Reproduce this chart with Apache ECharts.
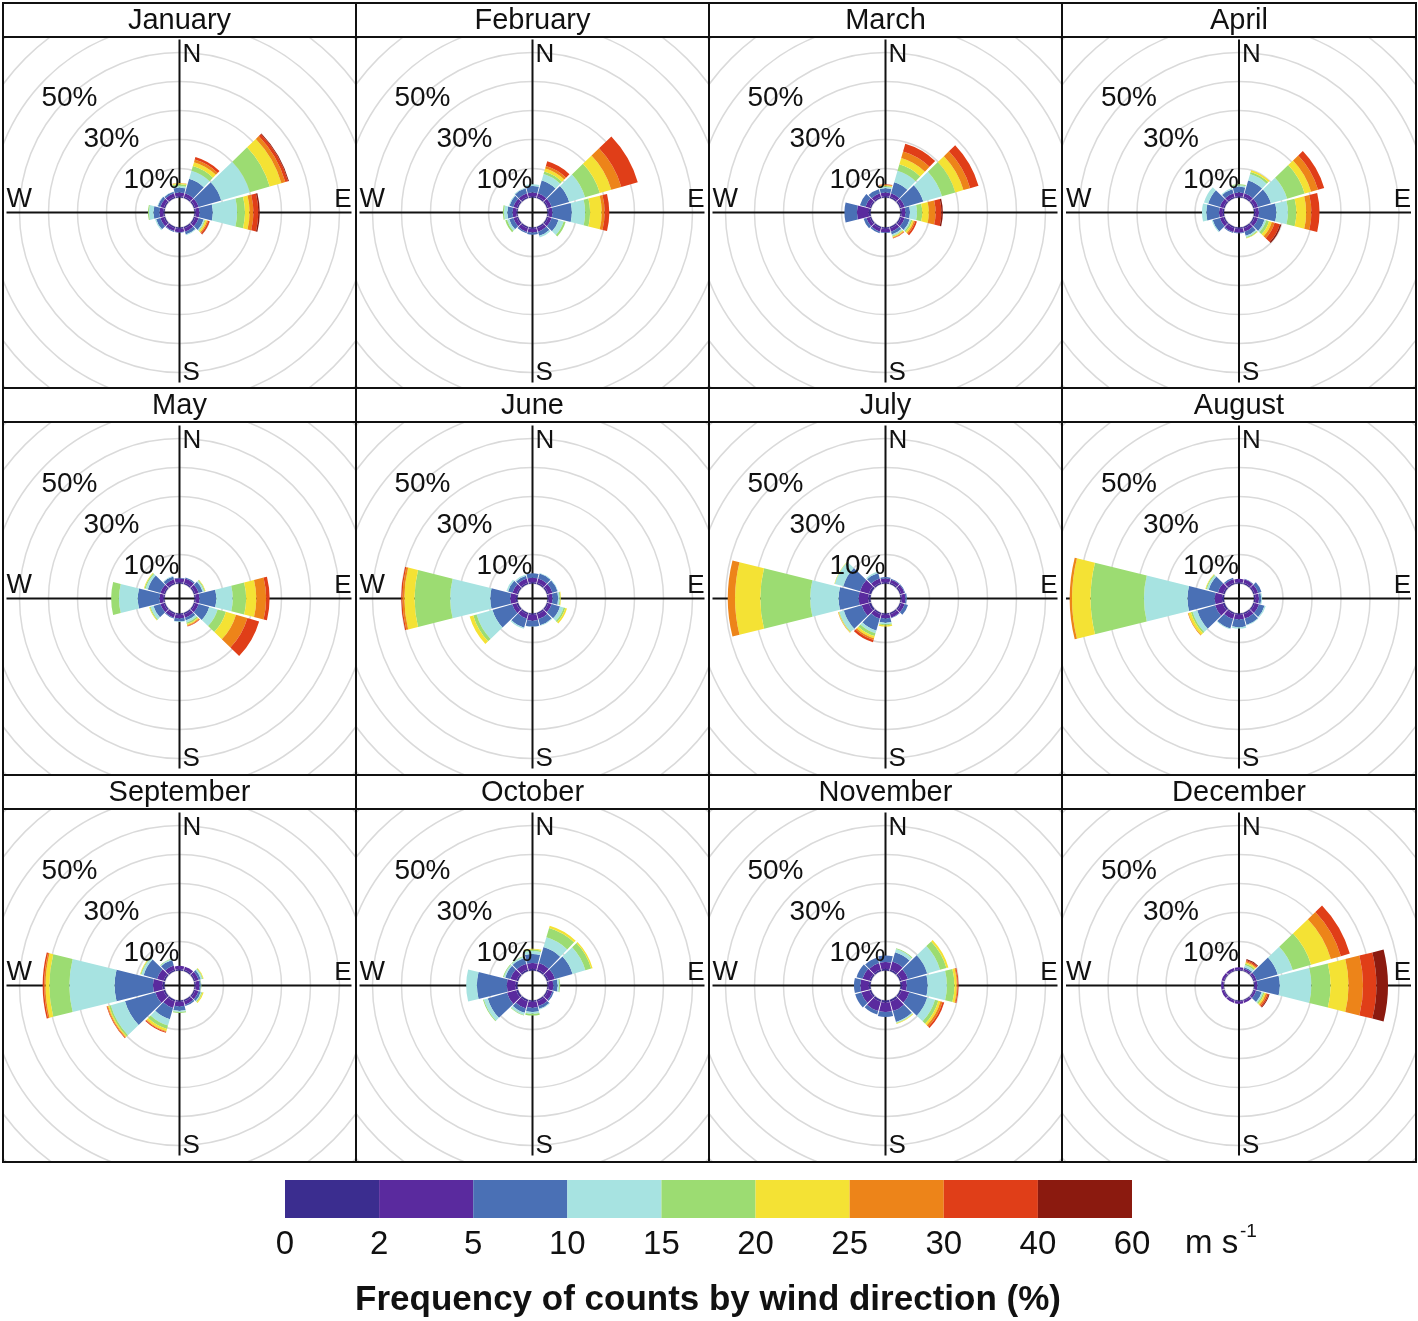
<!DOCTYPE html>
<html>
<head>
<meta charset="utf-8">
<script src="https://cdn.jsdelivr.net/npm/echarts@6.0.0/dist/echarts.min.js"></script>
<style>
html,body{margin:0;padding:0;background:#fff;}
#wrap{position:relative;width:1418px;height:1321px;background:#fff;}
#bg{position:absolute;left:0;top:0;width:1418px;height:1321px;}
.panel{position:absolute;}
</style>
</head>
<body>
<div id="wrap"><div id="bg"></div></div>
<script>
// ---------------- data ----------------
const monthNames = ['January','February','March','April','May','June','July','August','September','October','November','December'];
const directions = ['0','30','60','90','120','150','180','210','240','270','300','330'];
const speedBins = ['0-2','2-5','5-10','10-15','15-20','20-25','25-30','30-40','40-60'];
const tickLabels = ['0','2','5','10','15','20','25','30','40','60'];
const binColors = ['#3B2D8F','#5A2A9E','#4A70B5','#A7E3E1','#9CDC72','#F4E234','#ED8419','#E03E18','#8B1A0F'];
const ringLabels = ['10%','30%','50%'];
const unitText = 'm s';
const unitSup = '-1';
const axisTitle = 'Frequency of counts by wind direction (%)';

// each row = direction (0,30,...,330 deg); each column = frequency (%) of a speed bin
const January = [
  [0.5,1.2,1.7,0.6,0.6,0.3,0.1,0,0],
  [0.5,1.2,5.2,2.9,1.7,1.4,0.9,0.9,0],
  [0.5,1.2,8.1,10.3,7.1,4.2,1.4,1.0,0.3],
  [0.5,1.2,4.6,8.4,2.7,1.6,1.3,1.7,0.5],
  [0.5,1.2,1.8,0.4,0.3,0.5,0.4,0.5,0.1],
  [0.5,1.2,1.0,0.3,0,0,0,0,0],
  [0.5,1.1,0.2,0,0,0,0,0,0],
  [0.5,1.0,0.3,0,0,0,0,0,0],
  [0.5,1.2,1.5,0.4,0,0,0,0,0],
  [0.5,1.2,2.1,1.6,0.3,0,0,0,0],
  [0.5,1.2,0.9,0.2,0,0,0,0,0],
  [0.5,1.2,0.6,0.1,0,0,0,0,0]
];
const February = [
  [0.5,1.2,2.3,0.6,0,0,0,0,0],
  [0.5,1.2,4.6,2.3,0.9,1.1,0.9,1.7,0],
  [0.5,1.2,6.3,5.7,5.3,4.1,3.6,5.9,0],
  [0.5,1.2,6.7,4.6,1.7,4.0,1.0,1.6,0],
  [0.5,1.2,2.5,1.8,0.7,0,0,0,0],
  [0.5,1.2,1.5,0.6,0,0,0,0,0],
  [0.5,1.2,0.8,0,0,0,0,0,0],
  [0.5,1.3,0.5,0,0,0,0,0,0],
  [0.5,1.2,1.5,0.8,0.6,0,0,0,0],
  [0.5,1.2,1.8,1.2,0.4,0,0,0,0],
  [0.5,1.2,1.4,0.3,0,0,0,0,0],
  [0.5,1.2,1.8,0.3,0,0,0,0,0]
];
const March = [
  [0.5,1.2,1.5,0.5,0.3,0.2,0.2,0.2,0],
  [0.5,1.2,4.0,4.1,2.3,2.3,2.3,2.8,0],
  [0.5,1.2,6.7,6.7,4.8,2.9,2.4,3.0,0],
  [0.5,1.2,1.6,2.4,1.8,2.3,2.3,2.0,0.5],
  [0.5,1.2,1.8,0.5,0.5,0.5,0.5,0.6,0],
  [0.5,1.2,1.0,0.5,0.3,0.3,0.2,0.2,0],
  [0.5,1.2,0.2,0,0,0,0,0,0],
  [0.5,1.2,0.6,0,0,0,0,0,0],
  [0.5,1.2,1.0,0,0,0,0,0,0],
  [0.6,4.1,4.3,0,0,0,0,0,0],
  [0.5,1.5,2.0,0,0,0,0,0,0],
  [0.5,1.2,1.5,0,0,0,0,0,0]
];
const April = [
  [0.5,1.2,2.0,0.5,0.4,0,0,0,0],
  [0.5,1.2,4.6,2.3,0.8,0.6,0,0,0],
  [0.5,1.2,4.6,5.8,6.3,2.3,2.5,2.2,0],
  [0.5,1.2,6.0,4.0,2.9,3.4,1.8,2.8,0],
  [0.5,1.2,2.3,0.6,1.0,1.0,1.0,1.9,0.5],
  [0.5,1.2,1.5,0.5,0.3,0.2,0,0,0],
  [0.5,1.3,0.2,0,0,0,0,0,0],
  [0.5,1.4,0.3,0,0,0,0,0,0],
  [0.5,1.2,2.6,0.3,0,0,0,0,0],
  [0.5,1.2,4.4,1.5,0,0,0,0,0],
  [0.5,1.2,4.2,1.5,0,0,0,0,0],
  [0.5,1.2,1.5,0.4,0,0,0,0,0]
];
const May = [
  [0.5,1.3,0.2,0,0,0,0,0,0],
  [0.5,1.5,0.4,0,0,0,0,0,0],
  [0.5,1.2,1.5,0.5,0.3,0.2,0,0,0],
  [0.5,1.2,5.8,5.7,4.6,3.5,3.4,1.2,0],
  [0.5,1.2,3.8,3.0,3.0,3.6,4.1,4.2,0],
  [0.5,1.2,1.0,0.8,0.5,0.4,0.3,0.2,0],
  [0.5,1.2,1.0,0.2,0,0,0,0,0],
  [0.5,1.2,0.3,0,0,0,0,0,0],
  [0.5,1.2,2.5,1.0,0.3,0.2,0,0,0],
  [0.5,1.2,7.5,6.5,2.7,0,0,0,0],
  [0.5,1.2,4.5,0.8,0.4,0.2,0,0,0],
  [0.5,1.2,1.0,0.3,0,0,0,0,0]
];
const June = [
  [0.5,1.5,1.5,0,0,0,0,0,0],
  [0.5,1.5,1.8,0.2,0,0,0,0,0],
  [0.5,1.5,1.8,0.2,0,0,0,0,0],
  [0.5,1.2,2.0,0.5,0.3,0.2,0,0,0],
  [0.5,1.2,3.0,1.3,0.6,0.6,0,0,0],
  [0.5,1.7,2.2,0.2,0,0,0,0,0],
  [0.5,2.0,2.0,0.1,0,0,0,0,0],
  [0.5,1.5,3.3,0.4,0,0,0,0,0],
  [0.6,1.5,7.1,5.7,1.2,1.3,0,0,0],
  [0.6,1.9,6.9,13.8,12.3,3.5,0.7,0.4,0],
  [0.5,1.5,1.6,0.6,0,0,0,0,0],
  [0.5,1.5,1.0,0.4,0,0,0,0,0]
];
const July = [
  [0.5,1.2,0.5,0,0,0,0,0,0],
  [0.5,1.1,0.3,0,0,0,0,0,0],
  [0.5,1.1,0.3,0,0,0,0,0,0],
  [0.5,1.2,0.5,0,0,0,0,0,0],
  [0.5,1.2,1.2,0,0,0,0,0,0],
  [0.5,1.2,0.2,0,0,0,0,0,0],
  [0.5,1.2,1.5,0.5,0.4,0.4,0,0,0],
  [0.5,1.5,4.3,1.0,1.0,0.8,0.6,0.8,0],
  [0.8,2.6,6.4,1.6,0.2,0.2,0.1,0,0],
  [0.8,3.3,6.9,9.8,17.2,8.7,2.5,0,0],
  [0.8,3.2,6.0,3.0,0.1,0.1,0,0,0],
  [0.5,1.5,2.0,0.5,0,0,0,0,0]
];
const August = [
  [0.5,1.1,0,0,0,0,0,0,0],
  [0.5,1.2,0.2,0,0,0,0,0,0],
  [0.5,1.2,1.2,0,0,0,0,0,0],
  [0.5,1.2,0.8,0.3,0,0,0,0,0],
  [0.5,1.5,2.0,0.4,0,0,0,0,0],
  [0.5,1.5,2.3,0.2,0,0,0,0,0],
  [0.5,1.5,2.7,0.5,0,0,0,0,0],
  [0.5,1.7,3.4,0.3,0,0,0,0,0],
  [0.7,2.7,6.4,1.7,0.6,0.9,0.2,0,0],
  [0.7,2.5,9.4,15.0,18.4,6.4,0.8,0,0],
  [0.6,1.8,3.3,0.7,0.3,0.2,0,0,0],
  [0.5,1.3,0.5,0,0,0,0,0,0]
];
const September = [
  [0.5,1.1,0,0,0,0,0,0,0],
  [0.5,1.1,0,0,0,0,0,0,0],
  [0.5,1.2,0.8,0.5,0.3,0.2,0,0,0],
  [0.5,1.2,0.5,0.1,0.1,0,0,0,0],
  [0.5,1.2,0.8,0.3,0.3,0.4,0,0,0],
  [0.5,1.2,0.5,0,0,0,0,0,0],
  [0.5,1.5,1.5,0.5,0.3,0,0,0,0],
  [0.6,2.3,4.0,2.3,1.2,0.8,0.3,0.3,0],
  [0.6,2.9,10.9,5.1,0.6,0.4,0.3,0.2,0],
  [0.7,3.3,13.2,15.6,6.9,1.3,0.5,0.5,0],
  [0.6,2.3,4.8,0.8,0.3,0.2,0,0,0],
  [0.5,1.5,2.0,0.3,0.2,0,0,0,0]
];
const October = [
  [0.6,2.0,3.1,1.0,0.5,0.3,0,0,0],
  [0.6,2.3,5.7,3.5,3.4,0.8,0,0,0],
  [0.6,2.3,6.3,4.6,2.1,0.5,0,0,0],
  [0.5,1.5,1.5,0.6,0.3,0,0,0,0],
  [0.5,1.5,0.5,0,0,0,0,0,0],
  [0.5,1.7,1.0,0.3,0,0,0,0,0],
  [0.5,2.0,1.5,0.6,0.6,0,0,0,0],
  [0.6,2.5,1.5,0.8,0.2,0,0,0,0],
  [0.7,3.3,6.9,1.4,0.3,0,0,0,0],
  [0.7,3.0,10.3,3.7,0,0,0,0,0],
  [0.6,2.2,1.8,0.5,0.3,0,0,0,0],
  [0.6,2.0,2.1,0.5,0.2,0,0,0,0]
];
const November = [
  [0.6,2.3,2.3,0,0,0,0,0,0],
  [0.6,2.8,3.4,1.1,0.3,0,0,0,0],
  [0.6,2.3,6.9,4.6,2.3,0.7,0,0,0],
  [0.6,1.6,7.2,6.6,2.6,0.8,0.3,0.3,0],
  [0.6,2.8,6.4,2.8,1.2,0.8,0.7,0.6,0],
  [0.7,3.3,3.9,0.3,0.2,0.2,0,0,0],
  [0.7,3.3,1.7,0,0,0,0,0,0],
  [0.7,3.3,1.2,0,0,0,0,0,0],
  [0.6,2.9,2.2,0,0,0,0,0,0],
  [0.6,2.9,2.2,0,0,0,0,0,0],
  [0.6,2.5,2.1,0,0,0,0,0,0],
  [0.6,2.3,2.0,0,0,0,0,0,0]
];
const December = [
  [0.3,0.8,0,0,0,0,0,0,0],
  [0.3,0.6,0.5,0.8,0.5,0.5,0.4,0.4,0.3],
  [0.4,0.8,7.5,5.4,6.6,7.1,3.6,3.2,0],
  [0.4,0.8,7.7,10.9,6.6,6.2,5.0,4.6,4.0],
  [0.3,0.7,2.0,0.5,0.5,0.5,0.5,0.5,0.3],
  [0.3,0.8,0,0,0,0,0,0,0],
  [0.3,0.8,0,0,0,0,0,0,0],
  [0.3,0.8,0,0,0,0,0,0,0],
  [0.3,0.8,0,0,0,0,0,0,0],
  [0.3,0.7,0.1,0,0,0,0,0,0],
  [0.3,0.8,0,0,0,0,0,0,0],
  [0.3,0.8,0,0,0,0,0,0,0]
];
const monthData = [January,February,March,April,May,June,July,August,September,October,November,December];

// ---------------- layout ----------------
const FONT = "'Liberation Sans', Arial, Helvetica, sans-serif";
const colX = [3,356,709,1062,1416];
const rowTop = [3,388,775];
const rowBot = [388,775,1162];
const STRIP = 34;
const R0 = 15;          // hole radius (px)
const PX_PER_PCT = 2.9; // px per 1 %
const RMAX = 90;

function txt(text, x, y, size, align, valign, weight, z) {
  return {
    type: 'text', z: (z === undefined ? 100 : z),
    style: {
      text: text, x: x, y: y,
      fill: '#111',
      fontSize: size, fontFamily: FONT, fontWeight: weight || 'normal',
      align: align, verticalAlign: valign,
      textAlign: align, textVerticalAlign: valign
    }
  };
}
function ln(x1, y1, x2, y2, w, z) {
  return { type: 'line', z: (z === undefined ? 50 : z), shape: {x1, y1, x2, y2}, style: {stroke: '#111', lineWidth: w || 2} };
}

// ---------------- background: frames, titles, colour bar ----------------
const bg = echarts.init(document.getElementById('bg'));
const bgGraphics = [];
bgGraphics.push({type:'rect', z:50, shape:{x:colX[0], y:rowTop[0], width:colX[4]-colX[0], height:rowBot[2]-rowTop[0]},
  style:{fill:'none', stroke:'#111', lineWidth:2}});
for (let c = 1; c < 4; c++) bgGraphics.push(ln(colX[c], rowTop[0], colX[c], rowBot[2]));
for (let r = 0; r < 3; r++) {
  if (r > 0) bgGraphics.push(ln(colX[0], rowTop[r], colX[4], rowTop[r]));
  bgGraphics.push(ln(colX[0], rowTop[r] + STRIP, colX[4], rowTop[r] + STRIP));
}
monthNames.forEach((m, i) => {
  const r = Math.floor(i / 4), c = i % 4;
  bgGraphics.push(txt(m, (colX[c] + colX[c+1]) / 2, rowTop[r] + STRIP / 2 + 1, 29, 'center', 'middle'));
});
bgGraphics.push(txt(unitText, 1185, 1244, 33, 'left', 'middle'));
bgGraphics.push(txt(unitSup, 1240, 1232, 19, 'left', 'middle'));
bgGraphics.push(txt(axisTitle, 708, 1300, 35, 'center', 'middle', 'bold'));

bg.setOption({
  animation: false,
  grid: {left: 285, top: 1180, width: 847, height: 38},
  xAxis: {
    type: 'value', min: 0, max: speedBins.length, interval: 1,
    axisLine: {show: false}, axisTick: {show: false}, splitLine: {show: false},
    axisLabel: {show: true, margin: 10, color: '#111', fontSize: 33, fontFamily: FONT,
      formatter: v => tickLabels[Math.round(v)]}
  },
  yAxis: {type: 'value', min: 0, max: 1, show: false},
  series: [{
    type: 'custom', silent: true,
    data: speedBins.map((b, i) => [i, i + 1]),
    renderItem: function (params, api) {
      const p0 = api.coord([api.value(0), 0]);
      const p1 = api.coord([api.value(1), 1]);
      return {type: 'rect', shape: {x: p0[0], y: p1[1], width: p1[0] - p0[0], height: p0[1] - p1[1]},
        style: {fill: binColors[params.dataIndex]}};
    }
  }],
  graphic: bgGraphics
});

// ---------------- panels ----------------
const wrap = document.getElementById('wrap');
monthData.forEach((data, i) => {
  const r = Math.floor(i / 4), c = i % 4;
  const left = colX[c] + 1, top = rowTop[r] + STRIP + 1;
  const w = colX[c+1] - colX[c] - 2, h = rowBot[r] - top - 1;
  const div = document.createElement('div');
  div.className = 'panel';
  div.style.left = left + 'px'; div.style.top = top + 'px';
  div.style.width = w + 'px'; div.style.height = h + 'px';
  wrap.appendChild(div);
  const cx = w / 2, cy = h / 2;
  // west label is hidden when the westerly bar runs into it (as in the original)
  const westTotal = data[9].reduce((a, b) => a + b, 0);
  const westRadius = R0 + PX_PER_PCT * westTotal;
  const g = [
    ln(cx, cy - 173, cx, cy + 170, 2, 1),
    ln(cx - 173, cy, cx + 172, cy, 2, 1),
    txt('N', cx + 3, cy - 158, 26, 'left', 'middle', 'normal', 1),
    txt('S', cx + 3, cy + 160, 26, 'left', 'middle', 'normal', 1),
    txt('E', cx + 172, cy - 13, 26, 'right', 'middle', 'normal', 1),
    txt(ringLabels[0], cx - 28, cy - 32, 28, 'center', 'middle'),
    txt(ringLabels[1], cx - 68, cy - 73, 28, 'center', 'middle'),
    txt(ringLabels[2], cx - 110, cy - 114, 28, 'center', 'middle')
  ];
  if (westRadius < 146) g.push(txt('W', cx - 173, cy - 13, 27, 'left', 'middle', 'normal', 1));
  const chart = echarts.init(div);
  chart.setOption({
    animation: false,
    polar: {center: ['50%', '50%'], radius: [R0, R0 + PX_PER_PCT * RMAX]},
    angleAxis: {
      type: 'category', data: directions, startAngle: 105, clockwise: true, boundaryGap: true,
      axisLine: {show: false}, axisTick: {show: false}, axisLabel: {show: false},
      splitLine: {show: false}, splitArea: {show: false}
    },
    radiusAxis: {
      type: 'value', min: 0, max: RMAX, interval: 10,
      axisLine: {show: false}, axisTick: {show: false}, axisLabel: {show: false},
      splitLine: {show: true, lineStyle: {color: '#dadada', width: 1.5}}
    },
    series: speedBins.map((b, k) => ({
      type: 'bar', coordinateSystem: 'polar', name: b, stack: 'speed', silent: true, z: 5,
      barCategoryGap: '7%',
      data: data.map(d => d[k]),
      itemStyle: {color: binColors[k]}
    })),
    graphic: g
  });
});
</script>
</body>
</html>
